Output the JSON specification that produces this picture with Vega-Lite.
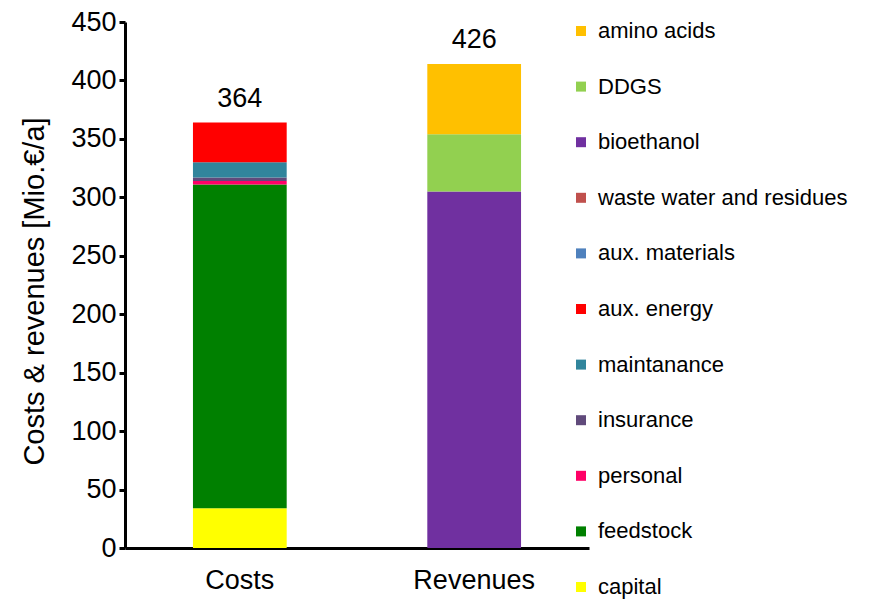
{
  "$schema": "https://vega.github.io/schema/vega-lite/v6.json",
  "width": 464,
  "height": 526,
  "autosize": "none",
  "padding": {"left": 125, "top": 22, "right": 286, "bottom": 53},
  "background": "white",
  "config": {
    "view": {"stroke": null},
    "font": "Liberation Sans",
    "axis": {"grid": false, "domainColor": "black", "domainWidth": 3, "tickColor": "black", "tickWidth": 3, "labelColor": "black", "titleColor": "black", "labelFont": "Liberation Sans", "titleFont": "Liberation Sans"}
  },
  "datasets": {
    "bars": [
      {"category": "Costs", "item": "capital", "idx": 1, "value": 34},
      {"category": "Costs", "item": "feedstock", "idx": 2, "value": 277},
      {"category": "Costs", "item": "personal", "idx": 3, "value": 3},
      {"category": "Costs", "item": "insurance", "idx": 4, "value": 3},
      {"category": "Costs", "item": "maintanance", "idx": 5, "value": 13},
      {"category": "Costs", "item": "aux. energy", "idx": 6, "value": 34},
      {"category": "Costs", "item": "aux. materials", "idx": 7, "value": 0},
      {"category": "Costs", "item": "waste water and residues", "idx": 8, "value": 0},
      {"category": "Revenues", "item": "bioethanol", "idx": 9, "value": 305},
      {"category": "Revenues", "item": "DDGS", "idx": 10, "value": 49},
      {"category": "Revenues", "item": "amino acids", "idx": 11, "value": 60}
    ],
    "totals": [
      {"category": "Costs", "total": 364, "top": 364},
      {"category": "Revenues", "total": 426, "top": 414}
    ]
  },
  "layer": [
    {
      "data": {"name": "bars"},
      "mark": {"type": "bar"},
      "encoding": {
        "x": {
          "field": "category", "type": "nominal",
          "scale": {"paddingInner": 0.6, "paddingOuter": 0.29},
          "axis": {"title": null, "labelAngle": 0, "ticks": false, "labelFontSize": 27, "labelPadding": 19}
        },
        "y": {
          "field": "value", "type": "quantitative", "aggregate": "sum", "stack": "zero",
          "scale": {"domain": [0, 450], "nice": false},
          "axis": {"title": "Costs & revenues [Mio.€/a]", "values": [0, 50, 100, 150, 200, 250, 300, 350, 400, 450], "tickSize": 6, "labelFontSize": 27, "labelPadding": 3, "titleFontSize": 29, "titleFontWeight": "normal", "titlePadding": 21, "titleY": 269}
        },
        "color": {
          "field": "item", "type": "nominal",
          "scale": {
            "domain": ["amino acids", "DDGS", "bioethanol", "waste water and residues", "aux. materials", "aux. energy", "maintanance", "insurance", "personal", "feedstock", "capital"],
            "range": ["#FFC000", "#92D050", "#7030A0", "#C0504D", "#4F81BD", "#FF0000", "#31859C", "#604A7B", "#FF0066", "#008000", "#FFFF00"]
          },
          "legend": {
            "title": null, "orient": "none", "legendX": 445, "legendY": -2,
            "symbolType": "square", "symbolSize": 100, "symbolStrokeWidth": 0,
            "labelFontSize": 22, "labelColor": "black", "labelOffset": 6, "rowPadding": 33.6, "labelLimit": 400
          }
        },
        "order": {"field": "idx", "type": "quantitative", "sort": "ascending"}
      }
    },
    {
      "data": {"name": "totals"},
      "mark": {"type": "text", "fontSize": 27, "baseline": "alphabetic", "dy": -16, "color": "black"},
      "encoding": {
        "x": {"field": "category", "type": "nominal"},
        "y": {"field": "top", "type": "quantitative"},
        "text": {"field": "total", "type": "quantitative"}
      }
    }
  ]
}
